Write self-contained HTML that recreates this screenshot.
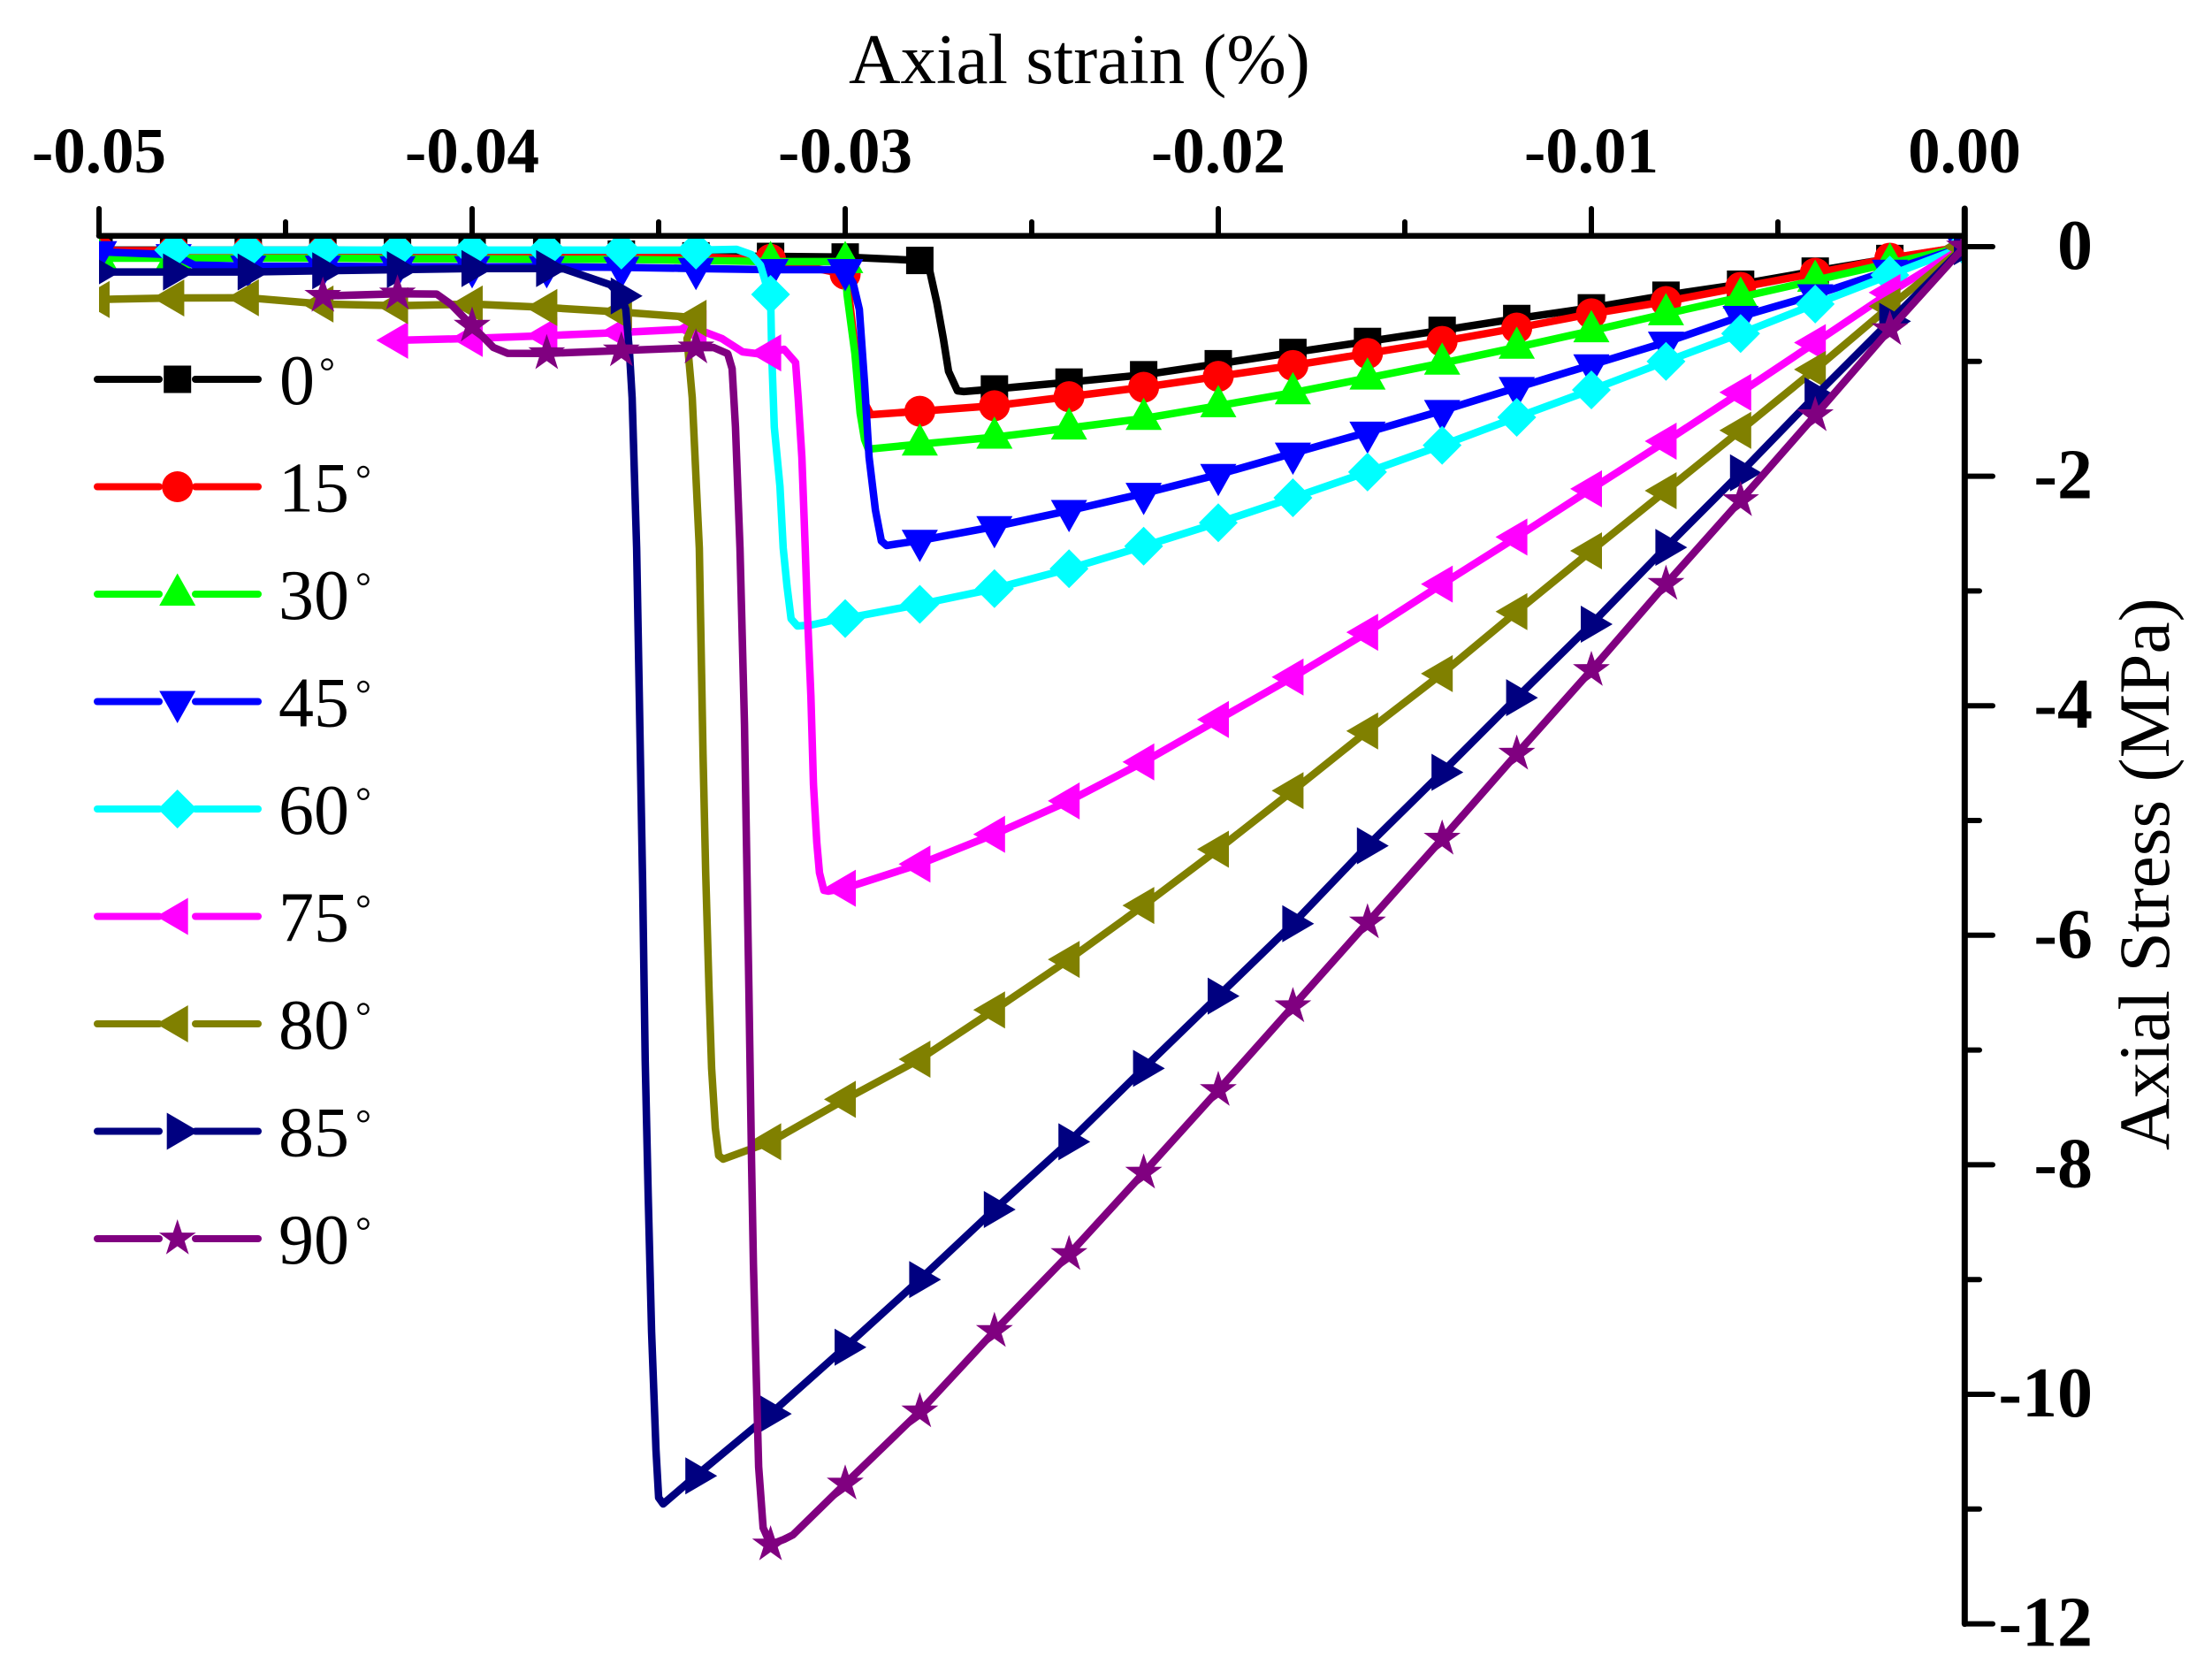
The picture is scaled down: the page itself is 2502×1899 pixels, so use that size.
<!DOCTYPE html>
<html lang="en">
<head>
<meta charset="utf-8">
<title>Axial stress versus axial strain</title>
<style>
html,body{margin:0;padding:0;background:#fff;}
svg{display:block;}
text{font-family:"Liberation Serif","Times New Roman",serif;fill:#000;}
</style>
</head>
<body>
<svg id="chart" xmlns="http://www.w3.org/2000/svg" width="2502" height="1899" viewBox="0 0 2502 1899">
  <defs>
    <clipPath id="plot-clip"><rect x="112" y="267" width="2110" height="1575"></rect></clipPath>
  </defs>
  <rect x="0" y="0" width="2502" height="1899" fill="#fff"></rect>
  <g id="series-layer" clip-path="url(#plot-clip)"></g>
  <g id="axis-layer"></g>
  <g id="legend-layer"></g>
  <text x="960" y="94" font-size="81">Axial strain (%)</text>
  <text transform="translate(2453,1301) rotate(-90)" font-size="81.5">Axial Stress (MPa)</text>
</svg>
<script>
// ---- Data ----
const angles = ["0", "15", "30", "45", "60", "75", "80", "85", "90"];
const xMajorTicks = [-0.05, -0.04, -0.03, -0.02, -0.01, 0];
const xMinorTicks = [-0.045, -0.035, -0.025, -0.015, -0.005];
const xTickLabels = ["-0.05", "-0.04", "-0.03", "-0.02", "-0.01", "0.00"];
const yMajorTicks = [0, -2, -4, -6, -8, -10, -12];
const yMinorTicks = [-1, -3, -5, -7, -9, -11];
const yTickLabels = ["0", "-2", "-4", "-6", "-8", "-10", "-12"];

const strain0 = [0,-.002,-.004,-.006,-.008,-.01,-.012,-.014,-.016,-.018,-.02,-.022,-.024,-.026,-.02682,-.02699,-.02723,-.02737,-.02754,-.02773,-.028,-.03,-.032,-.034,-.036,-.038,-.04,-.042,-.044,-.046,-.048,-.05];
const stress0 = [0,-.103,-.213,-.327,-.423,-.533,-.626,-.729,-.826,-.922,-1.02,-1.116,-1.18,-1.24,-1.263,-1.256,-1.086,-.801,-.493,-.216,-.12,-.09,-.085,-.08,-.065,-.05,-.04,-.035,-.03,-.03,-.03,-.03];
const kneeIdx0 = [14,15,16,17,18,19];

const strain15 = [0,-.002,-.004,-.006,-.008,-.01,-.012,-.014,-.016,-.018,-.02,-.022,-.024,-.026,-.028,-.02931,-.02955,-.02972,-.02991,-.03,-.032,-.034,-.036,-.038,-.04,-.042,-.044,-.046,-.048,-.05];
const stress15 = [0,-.10,-.231,-.354,-.478,-.585,-.709,-.825,-.93,-1.035,-1.13,-1.225,-1.307,-1.386,-1.434,-1.464,-1.317,-.932,-.393,-.24,-.11,-.09,-.085,-.07,-.055,-.045,-.04,-.035,-.035,-.035];
const kneeIdx15 = [15,16,17,18];

const strain30 = [0,-.002,-.004,-.006,-.008,-.01,-.012,-.014,-.016,-.018,-.02,-.022,-.024,-.026,-.028,-.02938,-.02948,-.0296,-.02974,-.02995,-.03,-.032,-.034,-.036,-.038,-.04,-.042,-.044,-.046,-.048,-.05];
const stress30 = [0,-.145,-.293,-.44,-.585,-.733,-.877,-1.015,-1.145,-1.273,-1.386,-1.497,-1.58,-1.66,-1.72,-1.764,-1.68,-1.448,-.932,-.416,-.13,-.13,-.12,-.11,-.11,-.105,-.105,-.1,-.1,-.1,-.1];
const kneeIdx30 = [15,16,17,18,19];

const strain45 = [0,-.002,-.004,-.006,-.008,-.01,-.012,-.014,-.016,-.018,-.02,-.022,-.024,-.026,-.028,-.02889,-.02903,-.02919,-.02936,-.02948,-.02962,-.02979,-.03,-.032,-.034,-.036,-.038,-.04,-.042,-.044,-.046,-.04744,-.048,-.05];
const stress45 = [0,-.206,-.42,-.609,-.833,-1.03,-1.228,-1.428,-1.617,-1.8,-1.985,-2.15,-2.3,-2.44,-2.56,-2.604,-2.565,-2.296,-1.834,-1.186,-.547,-.316,-.2,-.2,-.19,-.18,-.175,-.175,-.175,-.17,-.17,-.16,-.07,-.045];
const kneeIdx45 = [15,16,17,18,19,20,21,31];

const strain60 = [0,-.002,-.004,-.006,-.008,-.01,-.012,-.014,-.016,-.018,-.02,-.022,-.024,-.026,-.028,-.03,-.03038,-.03092,-.03128,-.03145,-.03156,-.03166,-.03175,-.0319,-.03197,-.032,-.03213,-.03227,-.03251,-.03291,-.034,-.036,-.038,-.04,-.042,-.044,-.046,-.048];
const stress60 = [0,-.247,-.50,-.757,-1.0,-1.248,-1.487,-1.73,-1.964,-2.188,-2.405,-2.61,-2.807,-2.98,-3.116,-3.24,-3.259,-3.297,-3.305,-3.243,-2.958,-2.627,-2.088,-1.572,-.932,-.416,-.316,-.162,-.069,-.023,-.03,-.03,-.03,-.03,-.03,-.03,-.03,-.03];
const kneeIdx60 = [16,17,18,19,20,21,22,23,24,26,27,28,29];

const strain75 = [0,-.002,-.004,-.006,-.008,-.01,-.012,-.014,-.016,-.018,-.02,-.022,-.024,-.026,-.028,-.03,-.03045,-.03057,-.03069,-.03076,-.03085,-.03092,-.03102,-.03107,-.03116,-.03126,-.03133,-.03164,-.032,-.03235,-.03275,-.0333,-.034,-.036,-.038,-.04,-.042];
const stress75 = [0,-.40,-.836,-1.27,-1.695,-2.11,-2.53,-2.94,-3.36,-3.75,-4.12,-4.49,-4.83,-5.12,-5.38,-5.59,-5.616,-5.609,-5.455,-5.193,-4.684,-3.914,-3.143,-2.627,-1.834,-1.317,-1.009,-.894,-.925,-.932,-.917,-.801,-.714,-.747,-.775,-.80,-.816];
const kneeIdx75 = [16,17,18,19,20,21,22,23,24,25,26,27,29,30,31];

const strain80 = [0,-.002,-.004,-.006,-.008,-.01,-.012,-.014,-.016,-.018,-.02,-.022,-.024,-.026,-.028,-.03,-.032,-.03327,-.03339,-.03348,-.03358,-.03365,-.03374,-.03381,-.03391,-.0341,-.03424,-.034,-.03441,-.036,-.038,-.04,-.042,-.044,-.046,-.048,-.05];
const stress80 = [0,-.52,-1.07,-1.6,-2.126,-2.65,-3.18,-3.72,-4.22,-4.74,-5.25,-5.74,-6.21,-6.65,-7.08,-7.43,-7.8,-7.951,-7.92,-7.681,-7.157,-6.479,-5.455,-4.422,-2.627,-1.317,-.801,-.624,-.609,-.57,-.53,-.5,-.515,-.5,-.445,-.447,-.46];
const kneeIdx80 = [17,18,19,20,21,22,23,24,25,26,28];

const strain85 = [0,-.002,-.004,-.006,-.008,-.01,-.012,-.014,-.016,-.018,-.02,-.022,-.024,-.026,-.028,-.03,-.032,-.034,-.03488,-.035,-.03507,-.03519,-.03528,-.03536,-.03543,-.03552,-.03559,-.03571,-.03578,-.03588,-.036,-.0363,-.03754,-.038,-.04,-.042,-.044,-.046,-.048,-.05];
const stress85 = [0,-.65,-1.3,-1.97,-2.62,-3.29,-3.93,-4.58,-5.22,-5.9,-6.53,-7.16,-7.8,-8.39,-9.0,-9.59,-10.17,-10.71,-10.955,-10.901,-10.485,-9.453,-8.274,-7.096,-5.555,-3.914,-2.627,-1.317,-.932,-.547,-.43,-.331,-.193,-.19,-.19,-.2,-.21,-.22,-.22,-.22];
const kneeIdx85 = [18,19,20,21,22,23,24,25,26,27,28,29,31,32];

const strain90 = [0,-.002,-.004,-.006,-.008,-.01,-.012,-.014,-.016,-.018,-.02,-.022,-.024,-.026,-.028,-.03,-.0314,-.03164,-.032,-.0322,-.03232,-.03239,-.03246,-.03251,-.03258,-.0327,-.03282,-.03294,-.03303,-.03315,-.03353,-.034,-.036,-.038,-.03905,-.03943,-.04,-.04057,-.04095,-.042,-.044];
const stress90 = [0,-.72,-1.47,-2.21,-2.94,-3.69,-4.42,-5.16,-5.89,-6.62,-7.35,-8.07,-8.78,-9.45,-10.15,-10.78,-11.225,-11.264,-11.31,-11.163,-10.632,-9.746,-8.867,-7.982,-6.479,-4.168,-2.627,-1.572,-1.063,-.932,-.878,-.88,-.905,-.93,-.929,-.878,-.69,-.501,-.413,-.41,-.43];
const kneeIdx90 = [16,17,19,20,21,22,23,24,25,26,27,28,29,30,34,35,37,38];

const strainBySeries = [strain0, strain15, strain30, strain45, strain60, strain75, strain80, strain85, strain90];
const stressBySeries = [stress0, stress15, stress30, stress45, stress60, stress75, stress80, stress85, stress90];
const kneesBySeries = [kneeIdx0, kneeIdx15, kneeIdx30, kneeIdx45, kneeIdx60, kneeIdx75, kneeIdx80, kneeIdx85, kneeIdx90];

// ---- Styling ----
const seriesColors = ["#000000", "#ff0000", "#00ff00", "#0000ff", "#00ffff", "#ff00ff", "#808000", "#000080", "#800080"];
const markerKinds = ["square", "circle", "up", "down", "diamond", "left", "left", "right", "star"];

// ---- Axis functions ----
function xScale(v) { return 2222 + v * 42200; }
function yScale(v) { return 279 - v * 129.8; }

const NS = "http://www.w3.org/2000/svg";
function make(tag, parent) {
  const el = document.createElementNS(NS, tag);
  parent.appendChild(el);
  return el;
}

function markerPoints(kind) {
  if (kind === "up") return [[0,-23.5],[20.5,13],[-20.5,13]];
  if (kind === "down") return [[-20.5,-12],[20.5,-12],[0,24.5]];
  if (kind === "diamond") return [[0,-22],[22,0],[0,22],[-22,0]];
  if (kind === "left") return [[-24,0],[12,-21],[12,21]];
  if (kind === "right") return [[24,0],[-12,-21],[-12,21]];
  if (kind === "star") {
    const pts = [];
    for (let k = 0; k < 10; k++) {
      const r = k % 2 === 0 ? 22 : 8.5;
      const a = -Math.PI / 2 + k * Math.PI / 5;
      pts.push([r * Math.cos(a), r * Math.sin(a)]);
    }
    return pts;
  }
  return [];
}

function drawMarker(parent, kind, cx, cy, color) {
  let el;
  if (kind === "square") {
    el = make("rect", parent);
    el.setAttribute("x", cx - 15.5);
    el.setAttribute("y", cy - 15.5);
    el.setAttribute("width", 31);
    el.setAttribute("height", 31);
  } else if (kind === "circle") {
    el = make("circle", parent);
    el.setAttribute("cx", cx);
    el.setAttribute("cy", cy);
    el.setAttribute("r", 17.5);
  } else {
    el = make("polygon", parent);
    el.setAttribute("points", markerPoints(kind).map(function (p) { return (cx + p[0]).toFixed(1) + "," + (cy + p[1]).toFixed(1); }).join(" "));
  }
  el.setAttribute("fill", color);
  
  
  return el;
}

// ---- Series ----
const seriesLayer = document.getElementById("series-layer");
angles.forEach(function (angle, s) {
  const strain = strainBySeries[s];
  const stress = stressBySeries[s];
  const knees = kneesBySeries[s];
  const group = make("g", seriesLayer);
  
  
  const line = make("polyline", group);
  
  
  line.setAttribute("points", strain.map(function (v, i) { return xScale(v).toFixed(1) + "," + yScale(stress[i]).toFixed(1); }).join(" "));
  line.setAttribute("fill", "none");
  line.setAttribute("stroke", seriesColors[s]);
  line.setAttribute("stroke-width", 8.5);
  line.setAttribute("stroke-linejoin", "round");
  line.setAttribute("stroke-linecap", "round");
  strain.forEach(function (v, i) {
    if (knees.indexOf(i) === -1) {
      drawMarker(group, markerKinds[s], xScale(v), yScale(stress[i]), seriesColors[s]);
    }
  });
});

// ---- Axes ----
const axisLayer = document.getElementById("axis-layer");
function axisLine(x1, y1, x2, y2, width, name) {
  const el = make("line", axisLayer);
  el.setAttribute("x1", x1);
  el.setAttribute("y1", y1);
  el.setAttribute("x2", x2);
  el.setAttribute("y2", y2);
  el.setAttribute("stroke", "#000");
  el.setAttribute("stroke-width", width);
  el.setAttribute("stroke-linecap", "round");
  
  
  return el;
}
const AXIS_TOP = 266.7;
const AXIS_RIGHT = 2222.3;
axisLine(xScale(-0.05), AXIS_TOP, AXIS_RIGHT, AXIS_TOP, 6.5, "x-axis-line");
axisLine(AXIS_RIGHT, 236, AXIS_RIGHT, yScale(-12), 7, "y-axis-line");
xMajorTicks.forEach(function (v, i) {
  axisLine(xScale(v), 236, xScale(v), AXIS_TOP, 6, "x-major-tick");
  const t = make("text", axisLayer);
  t.setAttribute("x", xScale(v));
  t.setAttribute("y", 195);
  t.setAttribute("text-anchor", "middle");
  t.setAttribute("font-size", 73);
  t.setAttribute("font-weight", "bold");
  
  
  t.textContent = xTickLabels[i];
});
xMinorTicks.forEach(function (v) {
  axisLine(xScale(v), 251, xScale(v), AXIS_TOP, 6, "x-minor-tick");
});
yMajorTicks.forEach(function (v, i) {
  axisLine(AXIS_RIGHT, yScale(v), 2254, yScale(v), 6, "y-major-tick");
  const t = make("text", axisLayer);
  t.setAttribute("x", 2367);
  t.setAttribute("y", yScale(v) + 25);
  t.setAttribute("text-anchor", "end");
  t.setAttribute("font-size", 80);
  t.setAttribute("font-weight", "bold");
  
  
  t.textContent = yTickLabels[i];
});
yMinorTicks.forEach(function (v) {
  axisLine(AXIS_RIGHT, yScale(v), 2239, yScale(v), 6, "y-minor-tick");
});

// ---- Legend ----
const legendLayer = document.getElementById("legend-layer");
angles.forEach(function (angle, s) {
  const rowY = 429 + s * 121.5;
  const row = make("g", legendLayer);
  
  
  [[110, 180], [221, 292]].forEach(function (seg) {
    const l = make("line", row);
    l.setAttribute("x1", seg[0]);
    l.setAttribute("x2", seg[1]);
    l.setAttribute("y1", rowY);
    l.setAttribute("y2", rowY);
    l.setAttribute("stroke", seriesColors[s]);
    l.setAttribute("stroke-width", 8);
    l.setAttribute("stroke-linecap", "round");
    
    
  });
  drawMarker(row, markerKinds[s], 200.7, rowY, seriesColors[s]);
  const t = make("text", row);
  t.setAttribute("x", angle.length === 1 ? 316 : 315);
  t.setAttribute("y", rowY + 28);
  t.setAttribute("font-size", 80);
  
  
  t.textContent = angle;
  const d = make("tspan", t);
  d.setAttribute("dx", angle.length === 1 ? 5 : 7);
  d.setAttribute("dy", -21.5);
  d.setAttribute("font-size", 45);
  
  
  d.textContent = "\u00b0";
});
</script>
</body>
</html>
